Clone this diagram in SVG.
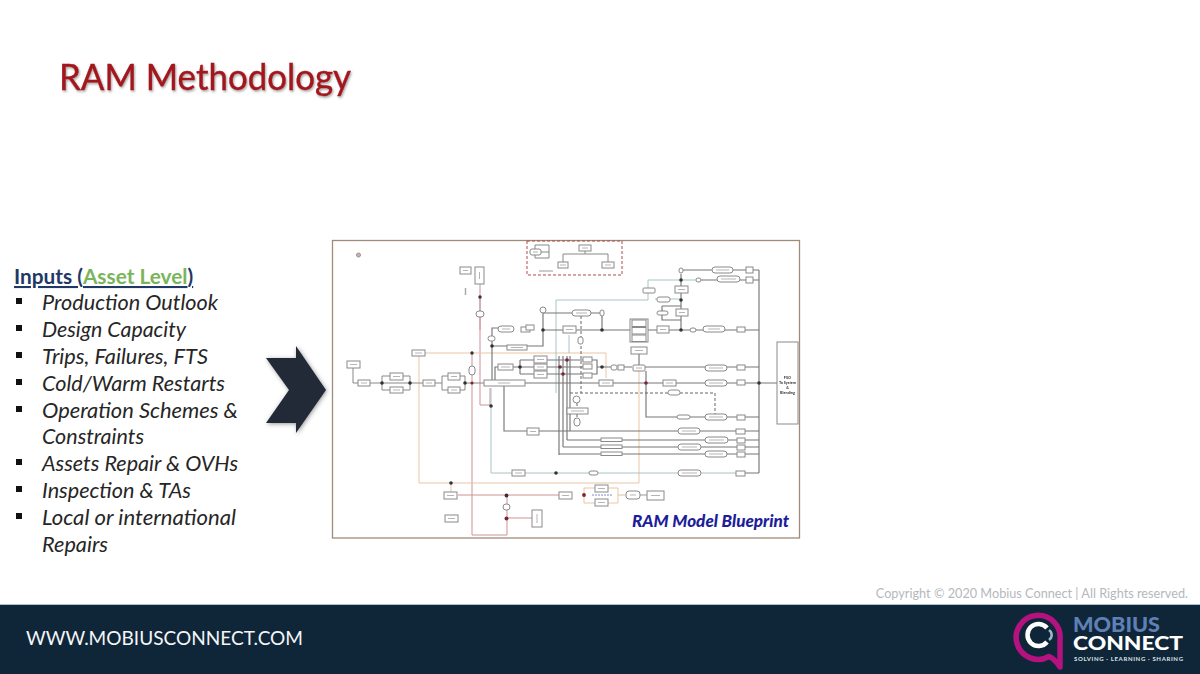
<svg xmlns="http://www.w3.org/2000/svg" width="1200" height="674" viewBox="0 0 1200 674">
<defs>
<filter id="soft" x="-2%" y="-2%" width="104%" height="104%"><feGaussianBlur stdDeviation="0.6"/></filter>
<filter id="tshadow" x="-5%" y="-20%" width="110%" height="150%"><feDropShadow dx="1" dy="1.5" stdDeviation="0.8" flood-color="#555" flood-opacity="0.55"/></filter>
<filter id="cshadow" x="-20%" y="-20%" width="140%" height="140%"><feDropShadow dx="1" dy="1" stdDeviation="2" flood-color="#333" flood-opacity="0.5"/></filter>
</defs>
<style>
text{font-family:"Lato","Open Sans","Liberation Sans",sans-serif}
.item{font-size:21.5px;font-style:italic;fill:#262626}
.bul{fill:#111}
.k{fill:none;stroke:#888;stroke-width:1}
.d{fill:none;stroke:#777;stroke-width:1.15}
.r{fill:none;stroke:#cf9295;stroke-width:1}
.o{fill:none;stroke:#e9c6a6;stroke-width:1}
.t{fill:none;stroke:#a6c4c4;stroke-width:1}
.dash{fill:none;stroke:#666;stroke-width:1;stroke-dasharray:3 2}
.b rect{fill:#fff;stroke:#8a8a8a;stroke-width:1}
.b line{stroke:#b5b5b5;stroke-width:1}
.dot{fill:#333;stroke:none}
.rd{fill:#7a2530;stroke:none}
</style>
<rect width="1200" height="674" fill="#fff"/>
<text x="59" y="90" font-size="36.500" fill="#a3141f" stroke="#a3141f" stroke-width="0.4" filter="url(#tshadow)" textLength="292" lengthAdjust="spacingAndGlyphs">RAM Methodology</text>

<g id="inputs">
<text x="14" y="284" font-size="20.800" font-weight="700" fill="#1f3864" text-decoration="underline">Inputs (<tspan fill="#7ab55c">Asset Level</tspan>)</text>
<rect class="bul" x="16" y="298" width="6" height="6"/><text class="item" x="42" y="310" textLength="176" lengthAdjust="spacingAndGlyphs">Production Outlook</text>
<rect class="bul" x="16" y="325" width="6" height="6"/><text class="item" x="42" y="337" textLength="144" lengthAdjust="spacingAndGlyphs">Design Capacity</text>
<rect class="bul" x="16" y="352" width="6" height="6"/><text class="item" x="42" y="364" textLength="166" lengthAdjust="spacingAndGlyphs">Trips, Failures, FTS</text>
<rect class="bul" x="16" y="379" width="6" height="6"/><text class="item" x="42" y="391" textLength="183" lengthAdjust="spacingAndGlyphs">Cold/Warm Restarts</text>
<rect class="bul" x="16" y="406" width="6" height="6"/><text class="item" x="42" y="418" textLength="196" lengthAdjust="spacingAndGlyphs">Operation Schemes &amp;</text>
<text class="item" x="42" y="444" textLength="102" lengthAdjust="spacingAndGlyphs">Constraints</text>
<rect class="bul" x="16" y="459" width="6" height="6"/><text class="item" x="42" y="471" textLength="196" lengthAdjust="spacingAndGlyphs">Assets Repair &amp; OVHs</text>
<rect class="bul" x="16" y="486" width="6" height="6"/><text class="item" x="42" y="498" textLength="149" lengthAdjust="spacingAndGlyphs">Inspection &amp; TAs</text>
<rect class="bul" x="16" y="513" width="6" height="6"/><text class="item" x="42" y="525" textLength="194" lengthAdjust="spacingAndGlyphs">Local or international</text>
<text class="item" x="42" y="552" textLength="66" lengthAdjust="spacingAndGlyphs">Repairs</text>
</g>

<g id="chevron"><polygon points="266,358 296,358 296,346 326,390 296,433 296,423 266,423 289,390" fill="#232a38" filter="url(#cshadow)"/></g>

<g id="blueprint">
<rect x="332.500" y="240.500" width="467" height="297.500" fill="#fff" stroke="#a08b78" stroke-width="1.300"/>
<g filter="url(#soft)">
<g id="connectors">
<path class="r" d="M480 284V405H490V388M472 353V535H507V495M507 518H533M458 495H559"/>
<path class="o" d="M412 353H606V378M419 356V483H639V371M451 483V492M584 488H618V503H584Z"/>
<path class="t" d="M556 393V300H648M648 280V300M648 280H698M569 335V353M491 388V473H512M525 473H589M598 473H678M701 473H736"/>
<path class="k" d="M353 368V383H358M370 383H423M382 383V376H390M403 376H410V390H403M390 390H382V383M435 383H442V376H448M460 376H465V390H460M448 390H442V383M465 383H484"/>
<path class="d" d="M492 380V328H499M492 346H507M527 346H543V307M543 330H563M543 313H572M591 313H602V330M576 330H630M648 330H657M669 330H703M725 330H737M745 330H759"/>
<path class="d" d="M495 380V367H498M513 367H534M520 360H534M520 374H534M520 360V374M547 360H583M547 367H583M547 374H583M559 356V455M563 356V447M567 356V440M570 356V431"/>
<path class="d" d="M525 383H599M613 383H663M676 383H705M727 383H737M745 383H777M504 386V431H527M539 431H678M700 431H736M745 431H759M567 440H601M622 440H705M728 440H737M745 440H759M563 447H601M622 447H678M701 447H737M745 447H759M559 454H601M622 454H705M727 454H737M745 454H759"/>
<path class="d" d="M592 360H597V374H592M597 367H611M618 367H632M645 367H705M727 367H737M745 367H759M639 354V365M646 371V417H677M690 417H705M727 417H737M745 417H759"/>
<path class="d" d="M681 274V286M681 293V310M681 316V330M662 306H681M662 306V320H681M698 280H717M740 280H746M753 280H759M681 270H712M733 270H746M753 270H759M759 270V473M745 473H759"/>
<path class="t" d="M655 299H681"/>
<path class="dash" d="M581 316V393M570 393H715V414M577 403V408M577 414V418"/>
<path class="k" d="M563 262V254H608V262M585 251V254M541 252H549M535 245H549V258H535Z"/>
<path class="r" d="M480 297V330" stroke-width="1.500"/>
</g>
<rect x="527" y="241" width="95" height="34" fill="none" stroke="#b04a50" stroke-width="1" stroke-dasharray="3 2"/>
<line x1="539" y1="271" x2="553" y2="271" stroke="#999"/>
<line x1="465.500" y1="288" x2="465.500" y2="295" stroke="#aaa" stroke-width="1.500"/>
<circle cx="358.500" cy="255" r="2" fill="#bbb" stroke="#a88"/>

<g id="nodes" class="b">
<g id="n1"><rect x="347" y="361" width="13" height="7"/><line x1="350" y1="364.500" x2="357" y2="364.500"/></g>
<g id="n2"><rect x="358" y="380" width="12" height="6"/><line x1="361" y1="383" x2="367" y2="383"/></g>
<g id="n3"><rect x="390" y="373" width="13" height="7"/><line x1="393" y1="376.500" x2="400" y2="376.500"/></g>
<g id="n4"><rect x="390" y="387" width="13" height="6"/><line x1="393" y1="390" x2="400" y2="390"/></g>
<g id="n5"><rect x="423" y="380" width="12" height="6"/><line x1="426" y1="383" x2="432" y2="383"/></g>
<g id="n6"><rect x="448" y="373" width="12" height="7"/><line x1="451" y1="376.500" x2="457" y2="376.500"/></g>
<g id="n7"><rect x="448" y="387" width="12" height="6"/><line x1="451" y1="390" x2="457" y2="390"/></g>
<g id="n8"><rect x="484" y="380" width="41" height="6"/><line x1="498" y1="383" x2="510" y2="383"/></g>
<g id="n9"><rect x="412" y="350" width="13" height="6"/><line x1="415" y1="353" x2="422" y2="353"/></g>
<g id="n10"><rect x="460" y="267" width="11" height="7"/><line x1="463" y1="270.500" x2="468" y2="270.500"/></g>
<g id="n11"><rect x="475" y="267" width="9" height="17"/><line x1="479.500" y1="272" x2="479.500" y2="279"/></g>
<g id="n12"><rect x="476" y="311" width="8" height="6" rx="3"/></g>
<g id="n13"><rect x="488" y="336" width="7" height="5" rx="2.500"/></g>
<g id="n14"><rect x="498" y="326" width="16" height="6" rx="3"/><line x1="502" y1="329" x2="510" y2="329"/></g>
<g id="n15"><rect x="521" y="327" width="9" height="5"/><rect x="526" y="325" width="8" height="5"/></g>
<g id="n16"><rect x="507" y="345" width="20" height="5"/><line x1="511" y1="347.500" x2="523" y2="347.500"/></g>
<g id="n17"><rect x="469" y="366" width="6" height="9" rx="3"/></g>
<g id="n18"><rect x="498" y="364" width="15" height="6"/><line x1="501" y1="367" x2="510" y2="367"/></g>
<g id="n19"><rect x="534" y="356" width="13" height="7"/><line x1="537" y1="359.500" x2="544" y2="359.500"/></g>
<g id="n20"><rect x="534" y="364" width="13" height="6"/><line x1="537" y1="367" x2="544" y2="367"/></g>
<g id="n21"><rect x="534" y="371" width="13" height="7"/><line x1="537" y1="374.500" x2="544" y2="374.500"/></g>
<g id="n22"><rect x="540" y="307" width="6" height="6" rx="3"/></g>
<g id="n23"><rect x="530" y="249" width="11" height="6" rx="2"/><line x1="533" y1="252" x2="538" y2="252"/></g>
<g id="n24"><rect x="558" y="262" width="10" height="6"/><line x1="560" y1="265" x2="566" y2="265"/></g>
<g id="n25"><rect x="602" y="262" width="12" height="6"/><line x1="605" y1="265" x2="611" y2="265"/></g>
<g id="n26"><rect x="579" y="245" width="12" height="6"/><line x1="582" y1="248" x2="588" y2="248"/></g>
<g id="n27"><rect x="572" y="310" width="19" height="6" rx="3"/><line x1="576" y1="313" x2="587" y2="313"/></g>
<g id="n28"><rect x="600" y="310" width="4" height="6" rx="2"/></g>
<g id="n29"><rect x="563" y="326" width="13" height="7"/><line x1="566" y1="329.500" x2="573" y2="329.500"/></g>
<g id="n30"><rect x="630" y="319" width="18" height="23"/><rect x="632" y="320" width="14" height="6.500"/><rect x="632" y="327.500" width="14" height="6.500"/><rect x="632" y="335" width="14" height="6.500"/></g>
<g id="n31"><rect x="657" y="326" width="12" height="7"/><line x1="660" y1="329.500" x2="666" y2="329.500"/></g>
<g id="n32"><rect x="690" y="328" width="6" height="4" rx="2"/></g>
<g id="n33"><rect x="703" y="326" width="22" height="6" rx="3"/><line x1="708" y1="329" x2="720" y2="329"/></g>
<g id="n34"><rect x="737" y="327" width="8" height="5"/></g>
<g id="n35"><rect x="679" y="268" width="4" height="5" rx="2"/></g>
<g id="n36"><rect x="712" y="267" width="21" height="6" rx="3"/><line x1="716" y1="270" x2="729" y2="270"/></g>
<g id="n37"><rect x="746" y="267" width="7" height="6"/></g>
<g id="n38"><rect x="696" y="278" width="5" height="4" rx="2"/></g>
<g id="n39"><rect x="717" y="276" width="23" height="6" rx="3"/><line x1="721" y1="279" x2="736" y2="279"/></g>
<g id="n40"><rect x="746" y="277" width="7" height="6"/></g>
<g id="n41"><rect x="675" y="286" width="13" height="7"/><line x1="678" y1="289.500" x2="685" y2="289.500"/></g>
<g id="n42"><rect x="676" y="309" width="12" height="7"/><line x1="679" y1="312.500" x2="685" y2="312.500"/></g>
<g id="n43"><rect x="657" y="311" width="11" height="4" rx="2"/></g>
<g id="n44"><rect x="643" y="288" width="12" height="5" rx="1"/></g>
<g id="n45"><rect x="657" y="297" width="13" height="5" rx="2"/></g>
<g id="n46"><rect x="631" y="347" width="16" height="7"/><line x1="635" y1="350.500" x2="643" y2="350.500"/></g>
<g id="n47"><rect x="633" y="365" width="12" height="6" rx="1"/><line x1="636" y1="368" x2="642" y2="368"/></g>
<g id="n48"><rect x="611" y="365" width="6" height="5" rx="2"/></g>
<g id="n49"><rect x="618" y="365" width="6" height="5"/></g>
<g id="n50"><rect x="705" y="365" width="22" height="6" rx="3"/><line x1="709" y1="368" x2="723" y2="368"/></g>
<g id="n51"><rect x="737" y="365" width="8" height="5"/></g>
<g id="n52"><rect x="583" y="357" width="9" height="5"/></g>
<g id="n53"><rect x="583" y="364" width="9" height="5"/></g>
<g id="n54"><rect x="583" y="373" width="9" height="5"/></g>
<g id="n55"><rect x="599" y="380" width="14" height="6"/><line x1="602" y1="383" x2="610" y2="383"/></g>
<g id="n56"><rect x="663" y="380" width="13" height="6"/><line x1="666" y1="383" x2="673" y2="383"/></g>
<g id="n57"><rect x="705" y="380" width="22" height="6" rx="3"/><line x1="709" y1="383" x2="723" y2="383"/></g>
<g id="n58"><rect x="737" y="380" width="8" height="5"/></g>
<g id="n59"><rect x="777" y="342" width="21" height="82"/></g>
<g id="n60"><rect x="578" y="337" width="5" height="7" rx="2"/></g>
<g id="n61"><rect x="668" y="390" width="12" height="5" rx="2.500"/></g>
<g id="n62"><rect x="573" y="396" width="7" height="7" rx="3.500"/></g>
<g id="n63"><rect x="567" y="408" width="21" height="6"/><line x1="571" y1="411" x2="584" y2="411"/></g>
<g id="n64"><rect x="574" y="418" width="6" height="8" rx="3"/></g>
<g id="n65"><rect x="677" y="415" width="13" height="4" rx="2"/></g>
<g id="n66"><rect x="705" y="414" width="22" height="6" rx="3"/><line x1="709" y1="417" x2="723" y2="417"/></g>
<g id="n67"><rect x="737" y="415" width="8" height="5"/></g>
<g id="n68"><rect x="527" y="428" width="12" height="7"/><line x1="530" y1="431.500" x2="536" y2="431.500"/></g>
<g id="n69"><rect x="678" y="428" width="22" height="6" rx="3"/><line x1="682" y1="431" x2="696" y2="431"/></g>
<g id="n70"><rect x="736" y="429" width="9" height="5"/></g>
<g id="n71"><rect x="601" y="438" width="21" height="3.500"/></g>
<g id="n72"><rect x="705" y="437" width="23" height="6" rx="3"/><line x1="709" y1="440" x2="724" y2="440"/></g>
<g id="n73"><rect x="737" y="438" width="8" height="5"/></g>
<g id="n74"><rect x="601" y="445" width="21" height="3.500"/></g>
<g id="n75"><rect x="678" y="444" width="23" height="6" rx="3"/><line x1="682" y1="447" x2="697" y2="447"/></g>
<g id="n76"><rect x="737" y="445" width="8" height="5"/></g>
<g id="n77"><rect x="601" y="452" width="21" height="3.500"/></g>
<g id="n78"><rect x="705" y="451" width="22" height="6" rx="3"/><line x1="709" y1="454" x2="723" y2="454"/></g>
<g id="n79"><rect x="737" y="452" width="8" height="5"/></g>
<g id="n80"><rect x="512" y="470" width="13" height="6"/><line x1="515" y1="473" x2="522" y2="473"/></g>
<g id="n81"><rect x="589" y="471" width="9" height="4" rx="2"/></g>
<g id="n82"><rect x="678" y="470" width="23" height="6" rx="3"/><line x1="682" y1="473" x2="697" y2="473"/></g>
<g id="n83"><rect x="736" y="471" width="9" height="5"/></g>
<g id="n84"><rect x="444" y="492" width="13" height="7"/><line x1="447" y1="495.500" x2="454" y2="495.500"/></g>
<g id="n85"><rect x="445" y="515" width="13" height="7"/><line x1="448" y1="518.500" x2="455" y2="518.500"/></g>
<g id="n86"><rect x="503" y="504" width="7" height="6" rx="3"/></g>
<g id="n87"><rect x="532" y="510" width="10" height="17"/><line x1="537" y1="514" x2="537" y2="523"/></g>
<g id="n88"><rect x="559" y="492" width="13" height="7"/><line x1="562" y1="495.500" x2="569" y2="495.500"/></g>
<g id="n89"><rect x="595" y="485" width="13" height="7"/><line x1="598" y1="488.500" x2="605" y2="488.500"/></g>
<g id="n90"><rect x="595" y="499" width="13" height="7"/><line x1="598" y1="502.500" x2="605" y2="502.500"/></g>
<g id="n91"><rect x="626" y="491" width="14" height="8" rx="3"/><line x1="630" y1="495" x2="636" y2="495"/></g>
<g id="n92"><rect x="647" y="491" width="17" height="9"/><line x1="651" y1="495.500" x2="660" y2="495.500"/></g>
</g>
<line x1="592" y1="495" x2="612" y2="495" stroke="#7d8cc4" stroke-width="1" stroke-dasharray="2 1"/>
<line x1="618" y1="495" x2="626" y2="495" stroke="#e5bd9a"/><line x1="640" y1="495" x2="647" y2="495" stroke="#999"/>
<text x="787.500" y="379" font-size="3.800" font-weight="700" fill="#333" text-anchor="middle">FSO</text>
<text x="787.500" y="384" font-size="3.800" font-weight="700" fill="#333" text-anchor="middle">To System</text>
<text x="787.500" y="389" font-size="3.800" font-weight="700" fill="#333" text-anchor="middle">&amp;</text>
<text x="787.500" y="394" font-size="3.800" font-weight="700" fill="#333" text-anchor="middle">Blending</text>
<g id="junctions">
<circle class="dot" cx="480" cy="297" r="1.700"/><circle class="dot" cx="472" cy="353" r="1.700"/><circle class="dot" cx="382" cy="383" r="1.800"/><circle class="dot" cx="410" cy="383" r="1.800"/><circle class="dot" cx="465" cy="383" r="1.800"/><circle class="dot" cx="492" cy="346" r="1.800"/><circle class="dot" cx="520" cy="367" r="1.800"/><circle class="dot" cx="543" cy="330" r="1.800"/><circle class="dot" cx="602" cy="330" r="1.800"/><circle class="dot" cx="681" cy="280" r="1.800"/><circle class="dot" cx="681" cy="300" r="1.800"/><circle class="dot" cx="681" cy="330" r="1.800"/><circle class="rd" cx="567" cy="360" r="1.800"/><circle class="rd" cx="560" cy="367" r="1.800"/><circle class="rd" cx="563" cy="374" r="1.800"/><circle class="dot" cx="602" cy="367" r="1.800"/><circle class="rd" cx="646" cy="383" r="1.800"/><circle class="dot" cx="759" cy="383" r="1.800"/><circle class="dot" cx="491" cy="406" r="1.800"/><circle class="dot" cx="556" cy="473" r="1.800"/><circle class="dot" cx="451" cy="483" r="1.800"/><circle class="dot" cx="506.500" cy="495.500" r="1.900"/><circle class="rd" cx="506.500" cy="518.500" r="2"/><circle class="rd" cx="584" cy="495" r="1.900"/><circle class="rd" cx="472" cy="383" r="1.600"/>
</g>
</g>
<text x="632" y="527" font-size="17" font-weight="900" font-style="italic" fill="#1d1d9a" textLength="157" lengthAdjust="spacingAndGlyphs">RAM Model Blueprint</text>
</g>

<text x="1188" y="598" font-size="12.700" fill="#b4b8bc" text-anchor="end">Copyright © 2020 Mobius Connect | All Rights reserved.</text>

<g id="footer">
<rect y="604" width="1200" height="2" fill="#a9c2d2"/>
<rect y="605" width="1200" height="69" fill="#0f2639"/>
<text x="26" y="645" font-size="20" fill="#f4f6f8" textLength="277" lengthAdjust="spacingAndGlyphs">WWW.MOBIUSCONNECT.COM</text>
<g id="logo">
<path d="M1060 667C1056 661 1053 658 1049 656.500A22 22 0 1 1 1060 640Z" fill="#0f2639" stroke="#b3127f" stroke-width="5.500" stroke-linejoin="round"/>
<path d="M1047 628A11 11 0 1 0 1047 642" fill="none" stroke="#fff" stroke-width="4.500"/>
<path d="M1049 630A6 6 0 0 1 1049 640" fill="none" stroke="#9fb4cf" stroke-width="2.500"/>
<text x="1073" y="632" font-size="20" font-weight="900" fill="#5f80b5" textLength="87" lengthAdjust="spacingAndGlyphs">MOBIUS</text>
<text x="1073" y="650" font-size="18" font-weight="900" fill="#fff" textLength="110" lengthAdjust="spacingAndGlyphs">CONNECT</text>
<text x="1074" y="661" font-size="6" font-weight="700" fill="#dfe5ea" textLength="109">SOLVING · LEARNING · SHARING</text>
</g>
</g>
</svg>
